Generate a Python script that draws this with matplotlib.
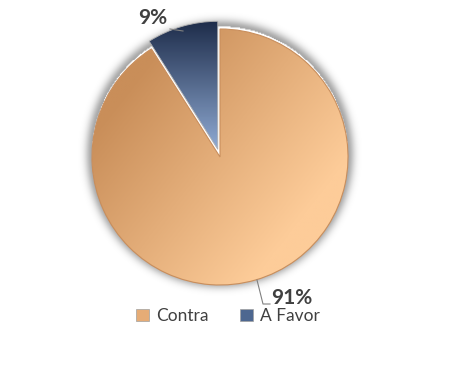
import numpy as np
import matplotlib.pyplot as plt
from matplotlib.colors import LinearSegmentedColormap
from matplotlib.patches import Patch

labels = ["Contra", "A Favor"]
values = [91, 9]
pct_labels = ["91%", "9%"]

# gradient ends (dark, light) per slice
grad_colors = [("#C98E59", "#FDCC99"), ("#1E2D4B", "#8FAAD3")]
legend_colors = ["#E6AC76", "#4D6790"]
text_color = "#404040"

plt.rcParams["font.family"] = ["Lato", "DejaVu Sans"]

fig = plt.figure(figsize=(4.5, 3.75), dpi=100)
ax = fig.add_axes([0, 0, 1, 1])

cx, cy, r = 220, 218, 128
wedges, _ = ax.pie(values, startangle=90, counterclock=False,
                   center=(cx, cy), radius=r, explode=[0, 8],
                   wedgeprops=dict(facecolor="none", edgecolor="none"))

# soft shadow around the top of the pie
n = 300
xs = np.linspace(cx - r - 30, cx + r + 30, n)
ys = np.linspace(cy - r - 30, cy + r + 30, n)
X, Y = np.meshgrid(xs, ys)
d = np.hypot(X - cx, Y - cy - 3)
alpha = np.clip(np.exp(-((d - r) / 7.0) ** 2), 0, 1) * 0.35
alpha[d < r] = 0
shadow = np.zeros((n, n, 4))
shadow[..., 3] = alpha
ax.imshow(shadow, extent=(xs[0], xs[-1], ys[0], ys[-1]), origin="lower",
          zorder=0.5, interpolation="bilinear")

# gradient fill clipped to each wedge
for i, (w, (c0, c1)) in enumerate(zip(wedges, grad_colors)):
    wx, wy = w.center
    if i == 1:
        t = (wy + r - Y) / r
    else:
        ang = np.deg2rad(-38)
        t = ((X - wx) * np.cos(ang) + (Y - wy) * np.sin(ang)) / r
        t = (t + 0.9) / 1.7
    cmap = LinearSegmentedColormap.from_list("g", [c0, c1])
    im = ax.imshow(np.clip(t, 0, 1), extent=(xs[0], xs[-1], ys[0], ys[-1]),
                   origin="lower", cmap=cmap, vmin=0, vmax=1, zorder=1,
                   interpolation="bilinear")
    im.set_clip_path(w)
    w.set_zorder(2)

wedges[0].set_edgecolor("#C98E5C")
wedges[0].set_linewidth(0.8)
wedges[1].set_edgecolor("#B0B0B0")
wedges[1].set_linewidth(0.6)

# data labels with leader lines
ax.plot([257, 263, 270], [95, 71, 71], color="#808080", lw=0.8, zorder=3)
ax.text(271, 77, pct_labels[0], fontsize=15, fontweight="bold",
        color=text_color, ha="left", va="center")
ax.plot([170, 183], [346, 344], color="#808080", lw=0.8, zorder=3)
ax.text(153, 357, pct_labels[1], fontsize=15, fontweight="bold",
        color=text_color, ha="center", va="center")

handles = [Patch(facecolor=c, edgecolor="#A0A0A0", linewidth=0.5)
           for c in legend_colors]
fig.legend(handles, labels, loc="center", bbox_to_anchor=(228 / 450, 1 - 316 / 375),
           ncol=2, frameon=False, fontsize=12.5, labelcolor=text_color,
           handlelength=0.75, handleheight=0.75, handletextpad=0.4,
           columnspacing=1.8)

ax.set_xlim(0, 450)
ax.set_ylim(0, 375)
ax.set_aspect("auto")
ax.axis("off")

fig.savefig("out.png", dpi=100)
